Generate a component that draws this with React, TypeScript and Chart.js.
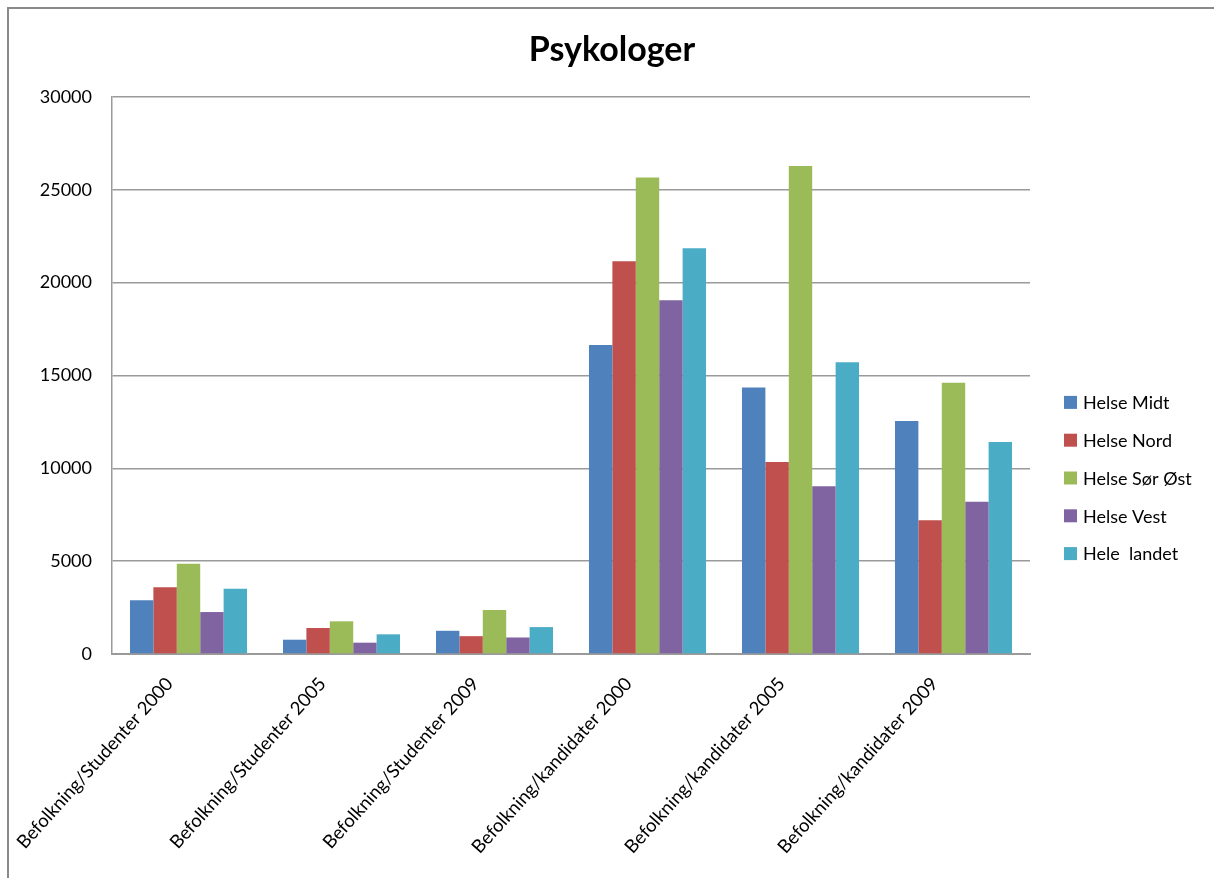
import React, { useEffect, useRef } from "react";
import { Chart, registerables } from "chart.js";

Chart.register(...registerables);

const chartTitle = "Psykologer";

const categories = [
  "Befolkning/Studenter 2000",
  "Befolkning/Studenter 2005",
  "Befolkning/Studenter 2009",
  "Befolkning/kandidater 2000",
  "Befolkning/kandidater 2005",
  "Befolkning/kandidater 2009",
];

const seriesNames = ["Helse Midt", "Helse Nord", "Helse Sør Øst", "Helse Vest", "Hele  landet"];

const helseMidt = [2890, 770, 1250, 16640, 14360, 12550];
const helseNord = [3590, 1400, 960, 21150, 10340, 7200];
const helseSorOst = [4860, 1760, 2370, 25670, 26280, 14610];
const helseVest = [2260, 610, 890, 19050, 9040, 8200];
const heleLandet = [3510, 1060, 1450, 21850, 15720, 11420];

const seriesValues = [helseMidt, helseNord, helseSorOst, helseVest, heleLandet];
const seriesColors = ["#4F81BD", "#C0504D", "#9BBB59", "#8064A2", "#4BACC6"];

const yMin = 0;
const yMax = 30000;
const yStep = 5000;

const FONT = "Lato, 'Open Sans', sans-serif";

export default function App() {
  const ref = useRef<HTMLCanvasElement | null>(null);

  useEffect(() => {
    document.body.style.margin = "0";
    const canvas = ref.current;
    if (!canvas) return;

    const framePlugin = {
      id: "frame",
      beforeDraw(chart: any) {
        const ctx = chart.ctx;
        ctx.save();
        ctx.fillStyle = "#ffffff";
        ctx.fillRect(0, 0, chart.width, chart.height);
        ctx.strokeStyle = "#8a8a8a";
        ctx.lineWidth = 2;
        ctx.beginPath();
        ctx.moveTo(8, chart.height);
        ctx.lineTo(8, 8);
        ctx.lineTo(chart.width, 8);
        ctx.stroke();
        ctx.restore();
      },
    };

    const titlePlugin = {
      id: "centerTitle",
      afterDraw(chart: any) {
        const ctx = chart.ctx;
        ctx.save();
        ctx.font = `bold 34px ${FONT}`;
        ctx.fillStyle = "#000";
        ctx.textAlign = "center";
        ctx.textBaseline = "alphabetic";
        ctx.fillText(chartTitle, chart.width / 2 + 5, 61);
        ctx.restore();
      },
    };

    const legendPlugin = {
      id: "customLegend",
      afterDraw(chart: any) {
        const ctx = chart.ctx;
        const area = chart.chartArea;
        const x0 = area.right + 34;
        const midY = area.top + 381;
        const spacing = 37.8;
        const n = chart.data.datasets.length;
        ctx.save();
        ctx.font = `18px ${FONT}`;
        ctx.textBaseline = "middle";
        ctx.textAlign = "left";
        chart.data.datasets.forEach((ds: any, i: number) => {
          const y = midY + (i - (n - 1) / 2) * spacing;
          ctx.fillStyle = ds.backgroundColor;
          ctx.fillRect(x0, y - 6.5, 13, 13);
          ctx.fillStyle = "#000";
          ctx.fillText(ds.label, x0 + 19, y + 1);
        });
        ctx.restore();
      },
    };

    const chart = new Chart(canvas, {
      type: "bar",
      data: {
        labels: categories,
        datasets: seriesNames.map((name, i) => ({
          label: name,
          data: seriesValues[i],
          backgroundColor: seriesColors[i],
          borderWidth: 0,
          barPercentage: 1,
          categoryPercentage: 0.765,
        })),
      },
      options: {
        responsive: false,
        animation: false,
        layout: { padding: { left: 0, right: 184, top: 97, bottom: 0 } },
        plugins: {
          legend: { display: false },
          tooltip: { enabled: false },
          title: { display: false },
        },
        scales: {
          y: {
            min: yMin,
            max: yMax,
            ticks: {
              stepSize: yStep,
              color: "#000",
              font: { family: FONT, size: 18 },
              padding: 20,
              callback: (v: any) => String(v),
            },
            grid: { color: "#9a9a9a", lineWidth: 1.5, drawTicks: false },
            border: { display: true, color: "#9a9a9a", width: 1.5 },
            afterFit(scale: any) {
              scale.width = 112;
            },
          },
          x: {
            ticks: {
              color: "#000",
              font: { family: FONT, size: 18.5 },
              maxRotation: 48,
              minRotation: 48,
              autoSkip: false,
              padding: 19,
              labelOffset: -19,
            },
            grid: { display: false, drawTicks: false },
            border: { display: true, color: "#9a9a9a", width: 2 },
            afterFit(scale: any) {
              scale.height = 224;
            },
          },
        },
      },
      plugins: [framePlugin, titlePlugin, legendPlugin],
    });

    return () => chart.destroy();
  }, []);

  return (
    <div style={{ width: 1214, height: 878 }}>
      <canvas ref={ref} width={1214} height={878} style={{ display: "block" }} />
    </div>
  );
}
